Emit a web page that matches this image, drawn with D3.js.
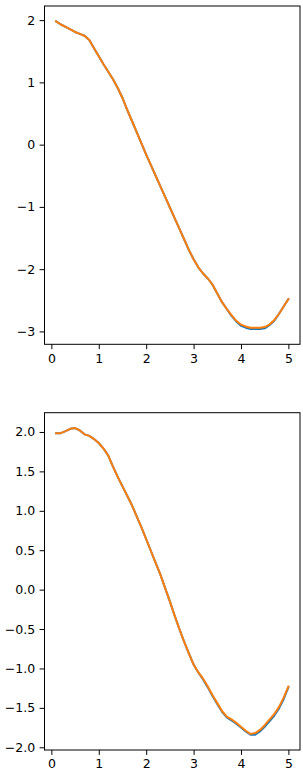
<!DOCTYPE html>
<html>
<head>
<meta charset="utf-8">
<script src="https://cdn.jsdelivr.net/npm/d3@7"></script>
<style>
  body { margin: 0; background: #fff; }
  .tick text { font-family: "DejaVu Sans", sans-serif; font-size: 12.5px; fill: #000; }
</style>
</head>
<body>
<div class="chart"></div>
<script>
// x positions shared by both panels
var xs = [0.1,0.2,0.3,0.4,0.5,0.6,0.7,0.8,0.9,1.0,
          1.1,1.2,1.3,1.4,1.5,1.6,1.7,1.8,1.9,2.0,
          2.1,2.2,2.3,2.4,2.5,2.6,2.7,2.8,2.9,3.0,
          3.1,3.2,3.3,3.4,3.5,3.6,3.7,3.8,3.9,4.0,
          4.1,4.2,4.3,4.4,4.5,4.6,4.7,4.8,4.9,5.0];

// top panel
var topBlue = [1.98,1.93,1.89,1.85,1.81,1.78,1.75,1.68,1.55,1.42,
               1.29,1.17,1.05,0.91,0.75,0.56,0.38,0.20,0.02,-0.16,
               -0.33,-0.50,-0.67,-0.84,-1.01,-1.18,-1.35,-1.52,-1.69,-1.84,
               -1.97,-2.07,-2.15,-2.25,-2.39,-2.53,-2.64,-2.75,-2.84,-2.91,
               -2.94,-2.96,-2.96,-2.96,-2.95,-2.90,-2.83,-2.72,-2.60,-2.48];
var topOrange = [1.98,1.93,1.89,1.85,1.81,1.78,1.75,1.68,1.55,1.42,
                 1.29,1.17,1.05,0.91,0.75,0.56,0.38,0.20,0.02,-0.16,
                 -0.33,-0.50,-0.67,-0.84,-1.01,-1.18,-1.35,-1.52,-1.69,-1.84,
                 -1.97,-2.07,-2.15,-2.25,-2.39,-2.53,-2.64,-2.74,-2.83,-2.89,
                 -2.92,-2.94,-2.94,-2.94,-2.93,-2.89,-2.82,-2.72,-2.60,-2.48];
var topTicks = [-3,-2,-1,0,1,2];

// bottom panel
var botBlue = [1.985,1.985,2.01,2.04,2.05,2.02,1.97,1.95,1.91,1.86,
               1.79,1.70,1.56,1.43,1.31,1.19,1.07,0.93,0.79,0.64,
               0.49,0.34,0.19,0.02,-0.15,-0.33,-0.50,-0.66,-0.81,-0.95,
               -1.05,-1.14,-1.24,-1.35,-1.45,-1.55,-1.62,-1.66,-1.70,-1.75,
               -1.80,-1.84,-1.84,-1.80,-1.74,-1.67,-1.60,-1.51,-1.39,-1.24];
var botOrange = [1.985,1.985,2.01,2.04,2.05,2.02,1.97,1.95,1.91,1.86,
                 1.79,1.70,1.56,1.43,1.31,1.19,1.07,0.93,0.79,0.64,
                 0.49,0.34,0.19,0.02,-0.15,-0.33,-0.50,-0.66,-0.81,-0.95,
                 -1.05,-1.13,-1.23,-1.34,-1.44,-1.54,-1.61,-1.645,-1.69,-1.74,
                 -1.79,-1.83,-1.82,-1.78,-1.72,-1.65,-1.58,-1.49,-1.37,-1.23];
var botTicks = [-2.0,-1.5,-1.0,-0.5,0.0,0.5,1.0,1.5,2.0];

var xTicks = [0,1,2,3,4,5];

var width = 303, height = 778;
var svg = d3.select(".chart")
  .append("svg")
    .attr("width", width)
    .attr("height", height);

function drawPanel(top, bottom, blue, orange, yTicks, fmt) {
    var left = 44.5, right = 300;
    var all = blue.concat(orange);
    var lo = d3.min(all), hi = d3.max(all);
    var pad = (hi - lo) * 0.05;
    var xpad = (5.0 - 0.1) * 0.05;

    var x = d3.scaleLinear().domain([0.1 - xpad, 5.0 + xpad]).range([left, right]);
    var y = d3.scaleLinear().domain([lo - pad, hi + pad]).range([bottom, top]);

    var g = svg.append("g");

    var line = d3.line()
      .x(function(d) { return x(d[0]); })
      .y(function(d) { return y(d[1]); });

    g.append("path")
      .datum(xs.map(function(v, i) { return [v, blue[i]]; }))
      .attr("d", line)
      .attr("fill", "none")
      .attr("stroke", "#1f77b4")
      .attr("stroke-width", 2)
      .attr("stroke-linejoin", "round")
      .attr("stroke-linecap", "square");

    g.append("path")
      .datum(xs.map(function(v, i) { return [v, orange[i]]; }))
      .attr("d", line)
      .attr("fill", "none")
      .attr("stroke", "#ff7f0e")
      .attr("stroke-width", 2)
      .attr("stroke-linejoin", "round")
      .attr("stroke-linecap", "square");

    // axes
    var xAxis = g.append("g")
      .attr("transform", "translate(0," + bottom + ")")
      .call(d3.axisBottom(x).tickValues(xTicks).tickSize(4.9).tickPadding(4.5).tickFormat(d3.format("d")));
    var yAxis = g.append("g")
      .attr("transform", "translate(" + left + ",0)")
      .call(d3.axisLeft(y).tickValues(yTicks).tickSize(4.9).tickPadding(4.5)
        .tickFormat(function(d) { return d3.format(fmt)(d).replace("-", "\u2212"); }));
    xAxis.select(".domain").remove();
    yAxis.select(".domain").remove();
    g.selectAll(".tick line").attr("stroke", "#000").attr("stroke-width", 1);

    // frame
    g.append("rect")
      .attr("x", left)
      .attr("y", top)
      .attr("width", right - left)
      .attr("height", bottom - top)
      .attr("fill", "none")
      .attr("stroke", "#000")
      .attr("stroke-width", 1);
}

drawPanel(6, 344.3, topBlue, topOrange, topTicks, "d");
drawPanel(412.7, 750, botBlue, botOrange, botTicks, ".1f");
</script>
</body>
</html>
